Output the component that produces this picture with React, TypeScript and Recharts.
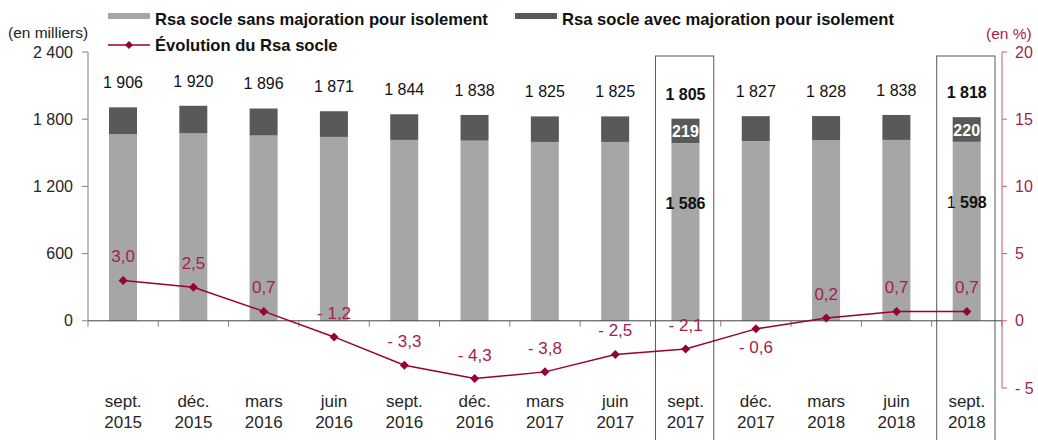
import React from 'react';
import { ComposedChart, Bar, Line, XAxis, YAxis, ReferenceLine, ReferenceArea, LabelList } from 'recharts';

// Données (en milliers / en %)
const categories = [
  'sept. 2015', 'déc. 2015', 'mars 2016', 'juin 2016', 'sept. 2016', 'déc. 2016', 'mars 2017',
  'juin 2017', 'sept. 2017', 'déc. 2017', 'mars 2018', 'juin 2018', 'sept. 2018',
];
const sansMajoration = [1668, 1676, 1655, 1642, 1615, 1609, 1597, 1597, 1586, 1604, 1614, 1615, 1598];
const avecMajoration = [238, 244, 241, 229, 229, 229, 228, 228, 219, 223, 214, 223, 220];
const totalSocle = [1906, 1920, 1896, 1871, 1844, 1838, 1825, 1825, 1805, 1827, 1828, 1838, 1818];
const evolution = [3.0, 2.5, 0.7, -1.2, -3.3, -4.3, -3.8, -2.5, -2.1, -0.6, 0.2, 0.7, 0.7];

const leftTicks = [0, 600, 1200, 1800, 2400];
const rightTicks = [-5, 0, 5, 10, 15, 20];
const highlighted = ['sept. 2017', 'sept. 2018'];
const labelBelow = ['déc. 2017'];

const FONT = '"Liberation Sans", Arial, sans-serif';
const LIGHT = '#A6A6A6';
const DARK = '#595959';
const CRIMSON = '#990033';
const CRIMSON_TXT = '#A31D4E';
const CRIMSON_AXIS = '#C4587E';

const data = categories.map((c, i) => ({
  cat: c,
  sans: sansMajoration[i],
  avec: avecMajoration[i],
  total: totalSocle[i],
  evol: evolution[i],
}));

const milliers = (n: number) => String(n).replace(/\B(?=(\d{3})+(?!\d))/g, ' ');
const pct = (v: number) => (v < 0 ? '- ' : '') + Math.abs(v).toFixed(1).replace('.', ',');

const XTick = (props: any) => {
  const { x, y, payload } = props;
  const [m, yr] = String(payload.value).split(' ');
  return (
    <text x={x} y={y} textAnchor="middle" fontSize={17} fill="#262626" fontFamily={FONT}>
      <tspan x={x} dy={19}>{m}</tspan>
      <tspan x={x} dy={21}>{yr}</tspan>
    </text>
  );
};

const Diamond = (props: any) => {
  const { cx, cy } = props;
  if (cx == null || cy == null) return <g />;
  const r = 4.5;
  return <path d={`M${cx},${cy - r}L${cx + r},${cy}L${cx},${cy + r}L${cx - r},${cy}Z`} fill={CRIMSON} />;
};

const TotalLabel = (props: any) => {
  const { x, y, width, index } = props;
  const bold = highlighted.includes(categories[index]);
  return (
    <text x={x + width / 2} y={y - 19} textAnchor="middle" fontSize={16} fontFamily={FONT}
      fill="#111" fontWeight={bold ? 'bold' : 'normal'}>
      {milliers(totalSocle[index])}
    </text>
  );
};

const AvecLabel = (props: any) => {
  const { x, y, width, height, index } = props;
  if (!highlighted.includes(categories[index])) return null;
  return (
    <text x={x + width / 2} y={y + height / 2 + 6} textAnchor="middle" fontSize={16} fontFamily={FONT}
      fill="#fff" fontWeight="bold">
      {avecMajoration[index]}
    </text>
  );
};

const SansLabel = (props: any) => {
  const { x, y, width, index } = props;
  const cat = categories[index];
  if (!highlighted.includes(cat)) return null;
  const s = milliers(sansMajoration[index]);
  const [head, tail] = [s.slice(0, 1), s.slice(1)];
  // sur la dernière barre, le premier chiffre n'est pas en gras dans l'original
  const plainHead = cat === 'sept. 2018';
  return (
    <text x={x + width / 2} y={y + 66} textAnchor="middle" fontSize={16} fontFamily={FONT} fill="#111">
      <tspan fontWeight={plainHead ? 'normal' : 'bold'}>{head}</tspan>
      <tspan fontWeight="bold">{tail}</tspan>
    </text>
  );
};

const EvolLabel = (props: any) => {
  const { x, y, index } = props;
  const below = labelBelow.includes(categories[index]);
  return (
    <text x={x} y={below ? y + 24 : y - 18} textAnchor="middle" fontSize={17} fontFamily={FONT} fill={CRIMSON_TXT}>
      {pct(evolution[index])}
    </text>
  );
};

// axe des abscisses à la hauteur de 0 avec graduations entre les catégories
const ZeroAxis = (props: any) => {
  const { x1, y1, x2 } = props;
  const n = categories.length;
  const step = (x2 - x1) / n;
  return (
    <g>
      <line x1={x1} y1={y1} x2={x2} y2={y1} stroke="#404040" strokeWidth={1} />
      {Array.from({ length: n + 1 }, (_, i) => (
        <line key={i} x1={x1 + i * step} y1={y1} x2={x1 + i * step} y2={y1 + 6} stroke="#808080" />
      ))}
    </g>
  );
};

const LeftAxisLine = (props: any) => {
  const { x, y, height } = props;
  return <line x1={x} y1={y} x2={x} y2={y + height} stroke="#7F7F7F" />;
};

const BoxShape = (props: any) => {
  const { x, y, width, height } = props;
  return <rect x={x + 5} y={y + 4} width={width - 12} height={height + 60} fill="none" stroke={DARK} strokeWidth={1} />;
};

export default function App() {
  return (
    <div style={{ position: 'absolute', left: 0, top: 0, width: 1038, height: 440, fontFamily: FONT, background: '#fff' }}>
      {/* légende */}
      <div style={{ position: 'absolute', left: 8, top: 24, fontSize: 15.5, color: '#222', whiteSpace: 'nowrap' }}>(en milliers)</div>
      <div style={{ position: 'absolute', left: 986, top: 25, fontSize: 15.5, color: CRIMSON_TXT, whiteSpace: 'nowrap' }}>(en %)</div>
      <div style={{ position: 'absolute', left: 108, top: 13, width: 42, height: 6, background: LIGHT }} />
      <div style={{ position: 'absolute', left: 155, top: 10, fontSize: 16.6, fontWeight: 'bold', color: '#111', whiteSpace: 'nowrap' }}>
        Rsa socle sans majoration pour isolement
      </div>
      <div style={{ position: 'absolute', left: 515, top: 13, width: 42, height: 6, background: DARK }} />
      <div style={{ position: 'absolute', left: 562, top: 10, fontSize: 16.6, fontWeight: 'bold', color: '#111', whiteSpace: 'nowrap' }}>
        Rsa socle avec majoration pour isolement
      </div>
      <svg style={{ position: 'absolute', left: 108, top: 40 }} width={42} height={10}>
        <line x1={0} y1={5} x2={42} y2={5} stroke={CRIMSON} strokeWidth={1.5} />
        <path d="M21,1L25,5L21,9L17,5Z" fill={CRIMSON} />
      </svg>
      <div style={{ position: 'absolute', left: 155, top: 36, fontSize: 16.6, fontWeight: 'bold', color: '#111', whiteSpace: 'nowrap' }}>
        Évolution du Rsa socle
      </div>

      <ComposedChart width={1038} height={440} data={data} margin={{ top: 52, right: 0, bottom: 0, left: 0 }}>
        <XAxis dataKey="cat" height={52} axisLine={false} tickLine={false} tickSize={0} tickMargin={0}
          tick={<XTick />} interval={0} />
        <YAxis yAxisId="left" width={88} domain={[-600, 2400]} ticks={leftTicks} axisLine={false}
          tickLine={{ stroke: '#808080' }} tickSize={6} tickMargin={9} tickFormatter={milliers}
          tick={{ fontSize: 16, fill: '#262626', fontFamily: FONT }} allowDataOverflow />
        <YAxis yAxisId="right" orientation="right" width={36} domain={[-5, 20]} ticks={rightTicks}
          axisLine={{ stroke: CRIMSON_AXIS }} tickLine={{ stroke: CRIMSON_AXIS }} tickSize={5} tickMargin={8}
          tickFormatter={(v: number) => (v < 0 ? '- ' + Math.abs(v) : String(v))}
          tick={{ fontSize: 16, fill: CRIMSON_TXT, fontFamily: FONT, textAnchor: 'start' }} />

        <ReferenceArea yAxisId="left" y1={0} y2={2400} ifOverflow="visible" shape={<LeftAxisLine />} />
        {highlighted.map((c) => (
          <ReferenceArea key={c} yAxisId="left" x1={c} x2={c} ifOverflow="visible" shape={<BoxShape />} />
        ))}

        <Bar yAxisId="left" dataKey="sans" stackId="a" fill={LIGHT} barSize={28} isAnimationActive={false}>
          <LabelList dataKey="sans" content={<SansLabel />} />
        </Bar>
        <Bar yAxisId="left" dataKey="avec" stackId="a" fill={DARK} barSize={28} isAnimationActive={false}>
          <LabelList dataKey="avec" content={<AvecLabel />} />
          <LabelList dataKey="total" content={<TotalLabel />} />
        </Bar>

        <ReferenceLine yAxisId="left" y={0} shape={<ZeroAxis />} />

        <Line yAxisId="right" dataKey="evol" stroke={CRIMSON} strokeWidth={1.5} dot={<Diamond />}
          activeDot={false} isAnimationActive={false}>
          <LabelList dataKey="evol" content={<EvolLabel />} />
        </Line>
      </ComposedChart>
    </div>
  );
}
